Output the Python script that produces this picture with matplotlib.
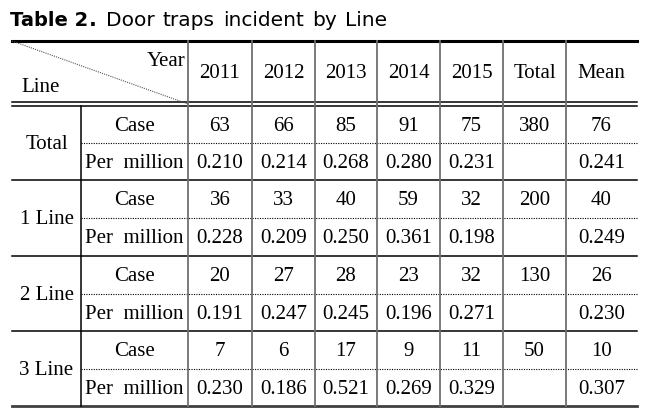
#!/usr/bin/env python3
"""Table 2. Door traps incident by Line - drawn as a matplotlib table figure."""

import matplotlib
matplotlib.use("Agg")
import matplotlib.pyplot as plt

years = ["2011", "2012", "2013", "2014", "2015"]
line_names = ["Total", "1 Line", "2 Line", "3 Line"]
case_counts = [
    [63, 66, 85, 91, 75],
    [36, 33, 40, 59, 32],
    [20, 27, 28, 23, 32],
    [7, 6, 17, 9, 11],
]
case_total = [380, 200, 130, 50]
case_mean = [76, 40, 26, 10]
per_million = [
    [0.210, 0.214, 0.268, 0.280, 0.231],
    [0.228, 0.209, 0.250, 0.361, 0.198],
    [0.191, 0.247, 0.245, 0.196, 0.271],
    [0.230, 0.186, 0.521, 0.269, 0.329],
]
per_million_mean = [0.241, 0.249, 0.230, 0.307]

# layout in pixel coordinates
W, H = 657, 410
left, right = 12, 637
col_line = 81
col_sub = 188
col_edges = [188, 252, 315, 377, 440, 503, 566, 637]
top = 42
head_bottom = 105
block_edges = [107, 181, 257, 332, 407]

serif = "Liberation Serif"
sans = "DejaVu Sans"
fs = 15
vgray = "#707070"

fig = plt.figure(figsize=(W / 100, H / 100), dpi=100)
ax = fig.add_axes([0, 0, 1, 1])
ax.set_xlim(0, W)
ax.set_ylim(H, 0)
ax.axis("off")

# title: bold label, then words spread out to the reference's wide spacing
title_y = 20
fig.canvas.draw()
renderer = fig.canvas.get_renderer()
t1 = ax.text(10, title_y, "Table 2", fontsize=14, fontweight="bold",
             family=sans, va="center", ha="left")
bb = t1.get_window_extent(renderer).transformed(ax.transData.inverted())
ax.text(bb.x1 + 1, title_y, ".", fontsize=15, fontweight="bold",
        family=sans, va="center", ha="left")
words = "Door traps incident by Line".split()
title_start, title_end = 106, 387
wtexts = [ax.text(0, title_y, w, fontsize=14.5, family=sans, va="center", ha="left")
          for w in words]
widths = []
for t in wtexts:
    b = t.get_window_extent(renderer).transformed(ax.transData.inverted())
    widths.append(b.x1 - b.x0)
gap = (title_end - title_start - sum(widths)) / (len(words) - 1)
x = title_start
for t, w in zip(wtexts, widths):
    t.set_x(x)
    x += w + gap

# horizontal rules
ax.plot([left, right], [top, top], color="black", lw=2.2)
ax.plot([left, right], [head_bottom - 2, head_bottom - 2], color="black", lw=1.1)
ax.plot([left, right], [head_bottom + 2, head_bottom + 2], color="black", lw=1.1)
for y in block_edges[1:-1]:
    ax.plot([left, right], [y, y], color="black", lw=1.1)
ax.plot([left, right], [block_edges[-1], block_edges[-1]], color="#404040", lw=2.0)
for y0, y1 in zip(block_edges[:-1], block_edges[1:]):
    ym = (y0 + y1) / 2
    ax.plot([col_line, right], [ym, ym], color="black", lw=0.8, ls=(0, (1, 1.2)))

# vertical rules
for x in col_edges[:-1]:
    ax.plot([x, x], [top, block_edges[-1]], color=vgray, lw=1.3)
ax.plot([col_line, col_line], [head_bottom + 2, block_edges[-1]], color="black", lw=1.1)

# diagonal in corner
ax.plot([left, col_sub], [top, head_bottom], color="#555555", lw=0.8, ls=(0, (1, 1)))
ax.text(185, 62, "Year", fontsize=fs, family=serif, ha="right", va="center")
ax.text(21, 88, "Line", fontsize=fs, family=serif, ha="left", va="center")

# header labels
headers = years + ["Total", "Mean"]
for i, h in enumerate(headers):
    xc = (col_edges[i] + col_edges[i + 1]) / 2
    ax.text(xc, 74, h, fontsize=fs, family=serif, ha="center", va="center")

# body
for b, name in enumerate(line_names):
    y0, y1 = block_edges[b], block_edges[b + 1]
    ym = (y0 + y1) / 2
    yc = (y0 + ym) / 2 + 1
    yp = (ym + y1) / 2 + 1
    ax.text((left + col_line) / 2, ym + 1, name, fontsize=fs, family=serif,
            ha="center", va="center")
    ax.text((col_line + col_sub) / 2, yc, "Case", fontsize=fs, family=serif,
            ha="center", va="center")
    ax.text((col_line + col_sub) / 2, yp, "Per  million", fontsize=fs, family=serif,
            ha="center", va="center")
    case_row = [str(v) for v in case_counts[b]] + [str(case_total[b]), str(case_mean[b])]
    pm_row = [f"{v:.3f}" for v in per_million[b]] + ["", f"{per_million_mean[b]:.3f}"]
    for i in range(len(case_row)):
        xc = (col_edges[i] + col_edges[i + 1]) / 2
        ax.text(xc, yc, case_row[i], fontsize=fs, family=serif, ha="center", va="center")
        ax.text(xc, yp, pm_row[i], fontsize=fs, family=serif, ha="center", va="center")

fig.savefig("out.png", dpi=100)
